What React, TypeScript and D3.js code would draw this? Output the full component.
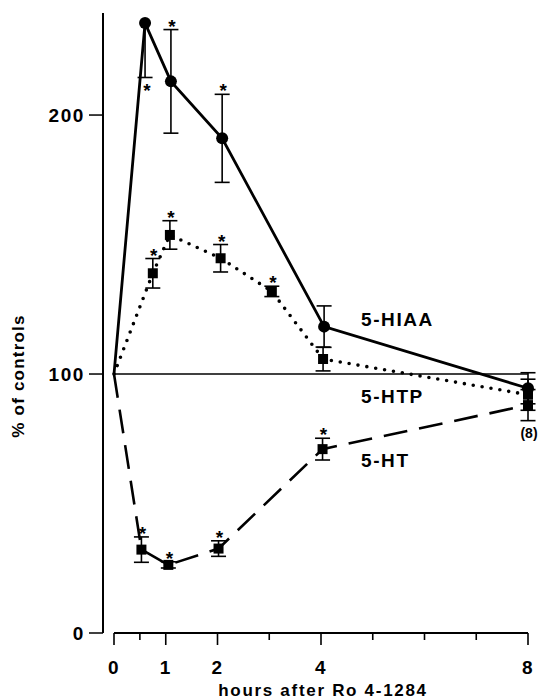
import React from "react"
import { scaleLinear, line, curveLinear } from "d3"

// hours after Ro 4-1284, % of controls, SEM
const hiaaT = [0, 0.6, 1.1, 2.09, 4.06, 8]
const hiaaV = [100, 235.5, 213, 191, 118.3, 94.5]
const hiaaErr = [0, 21, 20, 17, 8, 6]
const hiaaStar = ["", "below", "above", "above", "", ""]

const htpT = [0, 0.75, 1.08, 2.06, 3.05, 4.04, 8]
const htpV = [100, 138.9, 153.7, 144.7, 131.9, 105.8, 92]
const htpErr = [0, 5.7, 5.5, 5.3, 2, 4.6, 6]
const htpStar = ["", "above", "above", "above", "above", "", ""]

const htT = [0, 0.53, 1.05, 2.02, 4.03, 8]
const htV = [100, 32.2, 26.3, 32.6, 71, 88]
const htErr = [0, 4.9, 1.2, 3, 4.2, 6]
const htStar = ["", "above", "above", "above", "above", ""]

const xMajor = [0, 1, 2, 4, 8]
const xMinor = [0.5, 3, 5, 6, 7]
const yTicks = [0, 100, 200]

const font = "'Liberation Sans', Arial, sans-serif"

export default function App() {
	/** plot geometry */
	const width = 539
	const height = 700
	const x = scaleLinear().domain([0, 8]).range([114, 528])
	const y = scaleLinear().domain([0, 239.4]).range([633, 13])
	const yAxisX = 103
	const xAxisY = 633

	const toPts = (ts: number[], vs: number[]) => ts.map((t, i) => [x(t), y(vs[i])] as [number, number])
	const gen = line().curve(curveLinear)

	const capW = 7.5

	const errBars = (ts: number[], vs: number[], es: number[], stars: string[], key: string, skipUpper = -1) =>
		ts.map((t, i) => {
			if (!es[i]) return null
			const cx = x(t)
			const up = y(vs[i] + es[i])
			const lo = y(vs[i] - es[i])
			const top = i === skipUpper ? y(vs[i]) : up
			return (
				<g key={key + i}>
					<line x1={cx} x2={cx} y1={top} y2={lo} stroke="#000" strokeWidth={1.6} />
					{i !== skipUpper && <line x1={cx - capW} x2={cx + capW} y1={up} y2={up} stroke="#000" strokeWidth={1.6} />}
					<line x1={cx - capW} x2={cx + capW} y1={lo} y2={lo} stroke="#000" strokeWidth={1.6} />
					{stars[i] === "above" && (
						<text x={cx + 1} y={up + 3} textAnchor="middle" fontFamily={font} fontWeight="bold" fontSize={19}>*</text>
					)}
					{stars[i] === "below" && (
						<text x={cx + 2} y={lo + 20} textAnchor="middle" fontFamily={font} fontWeight="bold" fontSize={19}>*</text>
					)}
				</g>
			)
		})

	const hiaaPts = toPts(hiaaT, hiaaV)
	const htpPts = toPts(htpT, htpV)
	const htPts = toPts(htT, htV)

	const label = { fontFamily: font, fontWeight: "bold" as const, fontSize: 19, letterSpacing: 1.6 }

	return (
		<svg width={width} height={height} style={{ position: "absolute", left: 0, top: 0, background: "#fff" }}>
			{/* y axis */}
			<line x1={yAxisX} x2={yAxisX} y1={y(239.4)} y2={xAxisY} stroke="#000" strokeWidth={2} />
			{yTicks.map(v => (
				<g key={"yt" + v}>
					<line x1={yAxisX - 14} x2={yAxisX} y1={y(v)} y2={y(v)} stroke="#000" strokeWidth={1.5} />
					<text x={yAxisX - 18} y={y(v) + 7} textAnchor="end" {...label}>{v}</text>
				</g>
			))}
			<text transform={`translate(24, 376) rotate(-90)`} textAnchor="middle" fontFamily={font} fontWeight="bold" fontSize={17} letterSpacing={1.2}>% of controls</text>

			{/* x axis */}
			<line x1={x(0)} x2={x(8)} y1={xAxisY} y2={xAxisY} stroke="#000" strokeWidth={2} />
			{xMajor.map(t => (
				<g key={"xt" + t}>
					<line x1={x(t)} x2={x(t)} y1={xAxisY} y2={xAxisY + 12} stroke="#000" strokeWidth={1.6} />
					<text x={x(t)} y={674} textAnchor="middle" {...label}>{t}</text>
				</g>
			))}
			{xMinor.map(t => (
				<line key={"xm" + t} x1={x(t)} x2={x(t)} y1={xAxisY} y2={xAxisY + 7} stroke="#000" strokeWidth={1.6} />
			))}
			<text x={323} y={696} textAnchor="middle" fontFamily={font} fontWeight="bold" fontSize={17} letterSpacing={1.7}>hours after Ro 4-1284</text>

			{/* control line */}
			<line x1={x(0)} x2={x(8)} y1={y(100)} y2={y(100)} stroke="#000" strokeWidth={1.4} />

			{/* 5-HIAA */}
			<path d={gen(hiaaPts) || ""} fill="none" stroke="#000" strokeWidth={2.8} />
			{errBars(hiaaT, hiaaV, hiaaErr, hiaaStar, "hiaa", 1)}
			{hiaaPts.slice(1).map((p, i) => (
				<circle key={"hc" + i} cx={p[0]} cy={p[1]} r={6} fill="#000" />
			))}

			{/* 5-HTP */}
			<path d={gen(htpPts) || ""} fill="none" stroke="#000" strokeWidth={3.6} strokeDasharray="0,9" strokeLinecap="round" />
			{errBars(htpT, htpV, htpErr, htpStar, "htp")}
			{htpPts.slice(1).map((p, i) => (
				<rect key={"hp" + i} x={p[0] - 5} y={p[1] - 5} width={10} height={10} fill="#000" />
			))}

			{/* 5-HT */}
			<path d={gen(htPts) || ""} fill="none" stroke="#000" strokeWidth={2.6} strokeDasharray="24,12" />
			{errBars(htT, htV, htErr, htStar, "ht")}
			{htPts.slice(1).map((p, i) => (
				<rect key={"ht" + i} x={p[0] - 5} y={p[1] - 5} width={10} height={10} fill="#000" />
			))}

			{/* labels */}
			<text x={361} y={326} {...label}>5-HIAA</text>
			<text x={361} y={403} {...label}>5-HTP</text>
			<text x={361} y={467} {...label}>5-HT</text>
			<text x={529} y={438} textAnchor="middle" fontFamily={font} fontWeight="bold" fontSize={14}>(8)</text>
		</svg>
	)
}
